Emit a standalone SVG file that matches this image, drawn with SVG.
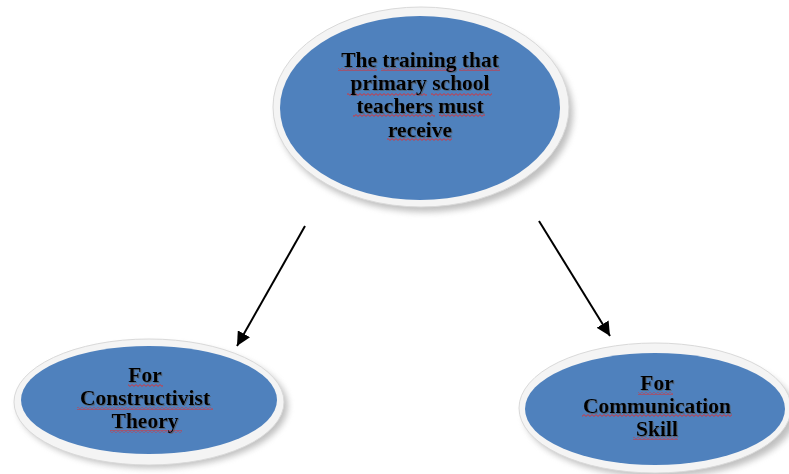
<svg xmlns="http://www.w3.org/2000/svg" width="789" height="474" viewBox="0 0 789 474">
<defs>
<style>
.rim{fill:#f4f4f4;stroke:#d9d9d9;stroke-width:1}
.blue{fill:#4f81bd}
.sh{fill:#8c8c8c;opacity:.55}
.lbl{font-family:"Liberation Serif","Times New Roman",serif;font-weight:bold;font-size:21.5px;fill:#000;text-anchor:middle}
.conn{stroke:#000;stroke-width:2;fill:none}
.sq{fill:url(#squig)}
</style>
<pattern id="squig" x="0" y="0" width="4" height="3" patternUnits="userSpaceOnUse"><path d="M0,0.6 L2,2.4 L4,0.6" fill="none" stroke="#e52b2b" stroke-width="0.9"/></pattern>
<filter id="blur" x="-10%" y="-10%" width="120%" height="120%"><feGaussianBlur stdDeviation="3"/></filter>
<filter id="ts" x="-5%" y="-20%" width="110%" height="140%"><feDropShadow dx="1" dy="1" stdDeviation="0.7" flood-color="#555" flood-opacity="0.6"/></filter>
<marker id="ah" viewBox="0 0 10 10" refX="10" refY="5" markerWidth="7" markerHeight="7" orient="auto" markerUnits="strokeWidth"><path d="M0,0 L10,5 L0,10 z" fill="#000"/></marker>
</defs>
<rect width="789" height="474" fill="#fff"/>
<g id="node-top">
<ellipse class="sh" cx="425" cy="113" rx="148" ry="99" filter="url(#blur)"/>
<ellipse class="rim" cx="421" cy="107" rx="148" ry="100"/>
<ellipse class="blue" cx="420" cy="108" rx="140" ry="92"/>
<g class="sq">
<rect x="338" y="68" width="39" height="3"/><rect x="381" y="68" width="74" height="3"/><rect x="459" y="68" width="41" height="3"/>
<rect x="347" y="93" width="80" height="3"/><rect x="431" y="93" width="61" height="3"/>
<rect x="353" y="114" width="82" height="3"/><rect x="439" y="114" width="46" height="3"/>
<rect x="387" y="138" width="65" height="3"/>
</g>
<g class="lbl" filter="url(#ts)">
<text x="420" y="67">The training that</text>
<text x="420" y="90">primary school</text>
<text x="420" y="113">teachers must</text>
<text x="420" y="137">receive</text>
</g>
</g>
<g id="node-left">
<ellipse class="sh" cx="153" cy="406" rx="135" ry="62" filter="url(#blur)"/>
<ellipse class="rim" cx="149" cy="402" rx="135" ry="63"/>
<ellipse class="blue" cx="149" cy="400" rx="128" ry="54"/>
<g class="sq">
<rect x="128" y="384" width="35" height="3"/>
<rect x="77" y="407" width="136" height="3"/>
<rect x="110" y="430" width="72" height="3"/>
</g>
<g class="lbl" filter="url(#ts)">
<text x="145" y="382">For</text>
<text x="145" y="405">Constructivist</text>
<text x="145" y="428">Theory</text>
</g>
</g>
<g id="node-right">
<ellipse class="sh" cx="660" cy="414" rx="136" ry="63" filter="url(#blur)"/>
<ellipse class="rim" cx="655" cy="408" rx="136" ry="65"/>
<ellipse class="blue" cx="655" cy="409" rx="130" ry="56"/>
<g class="sq">
<rect x="638" y="392" width="35" height="3"/>
<rect x="582" y="414" width="150" height="3"/>
<rect x="633" y="437" width="45" height="3"/>
</g>
<g class="lbl" filter="url(#ts)">
<text x="657" y="390">For</text>
<text x="657" y="413">Communication</text>
<text x="657" y="436">Skill</text>
</g>
</g>
<g id="connectors">
<line class="conn" x1="305" y1="226" x2="237" y2="346" marker-end="url(#ah)"/>
<line class="conn" x1="539" y1="221" x2="610" y2="336" marker-end="url(#ah)"/>
</g>
</svg>
